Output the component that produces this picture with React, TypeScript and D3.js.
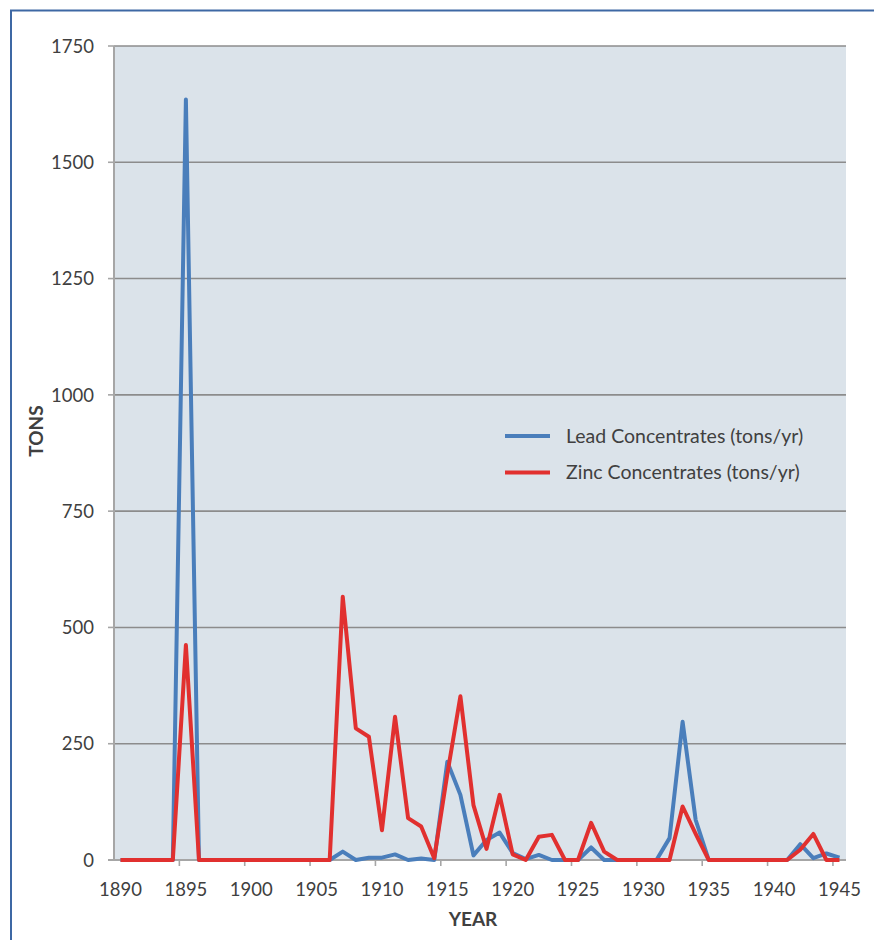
import React from "react";
import * as d3 from "d3";

const years: number[] = d3.range(1890, 1946);
const leadValues: number[] = [
  0, 0, 0, 0, 0, 1635, 0, 0, 0, 0,
  0, 0, 0, 0, 0, 0, 0, 18, 0, 5,
  5, 12, 0, 3, 0, 211, 140, 10, 43, 59,
  15, 2, 11, 0, 0, 0, 27, 0, 0, 0,
  0, 0, 47, 297, 86, 0, 0, 0, 0, 0,
  0, 0, 34, 4, 14, 5,
];
const zincValues: number[] = [
  0, 0, 0, 0, 0, 462, 0, 0, 0, 0,
  0, 0, 0, 0, 0, 0, 0, 566, 283, 265,
  64, 308, 90, 72, 4, 185, 352, 118, 24, 140,
  12, 0, 50, 54, 0, 0, 80, 18, 0, 0,
  0, 0, 0, 115, 56, 0, 0, 0, 0, 0,
  0, 0, 22, 56, 0, 0,
];
const yTicks: number[] = [0, 250, 500, 750, 1000, 1250, 1500, 1750];
const xLabelYears: number[] = [1890, 1895, 1900, 1905, 1910, 1915, 1920, 1925, 1930, 1935, 1940, 1945];
const seriesNames: string[] = ["Lead Concentrates (tons/yr)", "Zinc Concentrates (tons/yr)"];

const W = 874;
const H = 940;
const left = 114;
const right = 846;
const top = 46;
const bottom = 860;
const FONT = "Lato, 'Liberation Sans', sans-serif";
const BLUE = "#4a7ebb";
const RED = "#e1302f";
const TEXT = "#404040";

export default function App() {
  const x = d3.scaleBand<number>().domain(years).range([left, right]);
  const cx = (yr: number) => (x(yr) as number) + x.bandwidth() / 2;
  const y = d3.scaleLinear().domain([0, 1750]).range([bottom, top]);
  const line = d3
    .line<number>()
    .x((_, i) => cx(years[i]))
    .y((d) => y(d));

  const tickYears = years.filter((yr) => (yr - 1890) % 5 === 0 && yr !== 1890);

  return (
    <svg
      width={W}
      height={H}
      style={{ position: "absolute", left: 0, top: 0, display: "block", background: "#fff" }}
      fontFamily={FONT}
    >
      <rect x={11} y={10.5} width={870} height={960} fill="none" stroke="#3e68a4" strokeWidth={2} />
      <rect x={left} y={top} width={right - left} height={bottom - top} fill="#dbe3ea" />
      {yTicks.map((t) => (
        <g key={t}>
          {t > 0 && (
            <line x1={left} x2={right} y1={y(t)} y2={y(t)} stroke="#8c8c8c" strokeWidth={1.6} />
          )}
          <line x1={left - 6} x2={left} y1={y(t)} y2={y(t)} stroke="#a6a6a6" strokeWidth={1.6} />
          <text x={94} y={y(t)} dy="0.36em" textAnchor="end" fontSize={18.5} fill={TEXT}>
            {t}
          </text>
        </g>
      ))}
      <line x1={left} x2={left} y1={top} y2={bottom + 1} stroke="#a6a6a6" strokeWidth={2} />
      <line x1={left - 6} x2={right} y1={bottom} y2={bottom} stroke="#a6a6a6" strokeWidth={2} />
      {tickYears.map((yr) => (
        <line
          key={yr}
          x1={x(yr) as number}
          x2={x(yr) as number}
          y1={bottom}
          y2={bottom + 6}
          stroke="#a6a6a6"
          strokeWidth={1.6}
        />
      ))}
      {xLabelYears.map((yr) => (
        <text key={yr} x={cx(yr)} y={896} textAnchor="middle" fontSize={18.5} fill={TEXT}>
          {yr}
        </text>
      ))}
      <path d={line(leadValues) || ""} fill="none" stroke={BLUE} strokeWidth={4} strokeLinejoin="round" />
      <path d={line(zincValues) || ""} fill="none" stroke={RED} strokeWidth={4} strokeLinejoin="round" />
      <text x={473} y={926} textAnchor="middle" fontSize={19} fontWeight="bold" fill={TEXT}>
        YEAR
      </text>
      <text
        transform={`translate(43,431) rotate(-90)`}
        textAnchor="middle"
        fontSize={19}
        fontWeight="bold"
        fill={TEXT}
      >
        TONS
      </text>
      {seriesNames.map((name, i) => (
        <g key={name} transform={`translate(0,${436 + i * 36.5})`}>
          <line x1={505} x2={550} y1={0} y2={0} stroke={i === 0 ? BLUE : RED} strokeWidth={4} />
          <text x={566} y={0} dy="0.35em" fontSize={19.5} fill={TEXT}>
            {name}
          </text>
        </g>
      ))}
    </svg>
  );
}
